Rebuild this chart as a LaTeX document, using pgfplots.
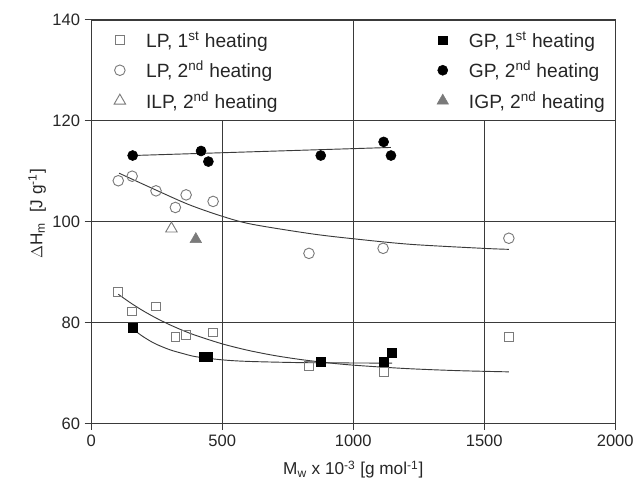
\documentclass[border=0pt]{standalone}
\usepackage{pgfplots}
\pgfplotsset{compat=1.18}
\usepackage{fontspec}
\setmainfont{Liberation Sans}
\definecolor{mgray}{HTML}{7A7A7A}
\definecolor{gridc}{HTML}{3A3A3A}
\begin{document}
\begin{tikzpicture}
\begin{axis}[
  scale only axis, width=396pt, height=305pt,
  xmin=0, xmax=2000, ymin=60, ymax=140,
  xtick={0,500,1000,1500,2000}, ytick={60,80,100,120,140},
  tick align=outside, tick pos=left,
  major tick length=5pt,
  axis line style={draw=gridc, line width=1pt},
  tick style={draw=gridc, line width=0.8pt},
  /pgf/number format/assume math mode=true,
  /pgf/number format/set thousands separator={},
  tick label style={font=\fontsize{12.5}{14}\selectfont, text=black!85},
  xlabel={M\textsubscript{w} x 10\textsuperscript{-3} [g mol\textsuperscript{-1}]},
  ylabel={$\Delta$H\textsubscript{m} \ [J g\textsuperscript{-1}]},
  label style={font=\fontsize{13}{15}\selectfont, text=black!85},
  xlabel style={yshift=-4pt},
  ylabel style={yshift=-2pt, xshift=6pt},
  legend columns=2,
  legend cell align=left,
  legend style={draw=none, fill=none, at={(axis description cs:0.0355,0.985)}, anchor=north west,
    font=\fontsize{14.5}{16}\selectfont, text=black!85,
    /tikz/every odd column/.append style={column sep=13.5pt},
    /tikz/every even column/.append style={column sep=118.5pt},
    row sep=5pt},
]
% grid lines
\draw[gridc, line width=0.6pt] (axis cs:0,80) -- (axis cs:2000,80);
\draw[gridc, line width=0.6pt] (axis cs:0,100) -- (axis cs:2000,100);
\draw[gridc, line width=0.6pt] (axis cs:0,120) -- (axis cs:2000,120);
\draw[gridc, line width=0.6pt] (axis cs:500,60) -- (axis cs:500,120);
\draw[gridc, line width=0.6pt] (axis cs:1000,60) -- (axis cs:1000,140);
\draw[gridc, line width=0.6pt] (axis cs:1500,60) -- (axis cs:1500,120);
% fits
\addplot[smooth, no marks, gridc, line width=0.7pt, forget plot] coordinates {
 (103,85.6) (150,83.88) (200,82.25) (250,80.81) (300,79.54) (350,78.41) (400,77.42) (500,75.76) (600,74.46) (700,73.44) (800,72.65) (900,72.03) (1000,71.54) (1200,70.87) (1400,70.45) (1594,70.21)};
\addplot[smooth, no marks, gridc, line width=0.7pt, forget plot] coordinates {
 (159,78.8) (180,77.85) (200,77.12) (225,76.32) (250,75.64) (300,74.59) (350,73.84) (400,73.21) (500,72.59) (600,72.28) (800,72.04) (1000,71.97) (1148,71.95)};
\addplot[smooth, no marks, gridc, line width=0.7pt, forget plot] coordinates {
 (106,109.6) (245,106.3) (371,103.4) (497,101.1) (611,99.5) (838,97.6) (1000,96.6) (1217,95.5) (1495,94.7) (1594,94.5)};
\addplot[no marks, gridc, line width=0.7pt, forget plot] coordinates {
 (158,113.1) (1144,114.7)};
% data
\addplot[only marks, mark=square, mark size=3.3pt, mgray, line width=0.7pt] coordinates {
 (103,86) (156,82.2) (247,83.2) (321,77.1) (362,77.5) (465,78) (831,71.4) (1116,70.2) (1594,77.1)};
\addlegendentry{LP, 1\textsuperscript{st} heating}
\addplot[only marks, mark=square*, mark size=3.3pt, black, line width=0.5pt] coordinates {
 (159,79) (428,73.2) (447,73.2) (876,72.2) (1116,72.2) (1148,74)};
\addlegendentry{GP, 1\textsuperscript{st} heating}
\addplot[only marks, mark=o, mark size=4pt, mgray, line width=0.7pt] coordinates {
 (103,108.1) (156,109) (247,106.1) (321,102.8) (362,105.3) (465,104) (831,93.7) (1114,94.7) (1594,96.7)};
\addlegendentry{LP, 2\textsuperscript{nd} heating}
\addplot[only marks, mark=*, mark size=3.8pt, black] coordinates {
 (158,113.1) (419,114) (447,111.9) (876,113.1) (1116,115.8) (1144,113.1)};
\addlegendentry{GP, 2\textsuperscript{nd} heating}
\addplot[only marks, mark=triangle, mark size=5pt, mgray, line width=0.7pt] coordinates {
 (306,98.6)};
\addlegendentry{ILP, 2\textsuperscript{nd} heating}
\addplot[only marks, mark=triangle*, mark size=5pt, mgray] coordinates {
 (399,96.5)};
\addlegendentry{IGP, 2\textsuperscript{nd} heating}
\end{axis}
\path (current axis.south west) ++(-69pt,-58.5pt) coordinate (bbA);
\path (current axis.north east) ++(13.5pt,15pt) coordinate (bbB);
\useasboundingbox (bbA) rectangle (bbB);
\end{tikzpicture}
\end{document}
